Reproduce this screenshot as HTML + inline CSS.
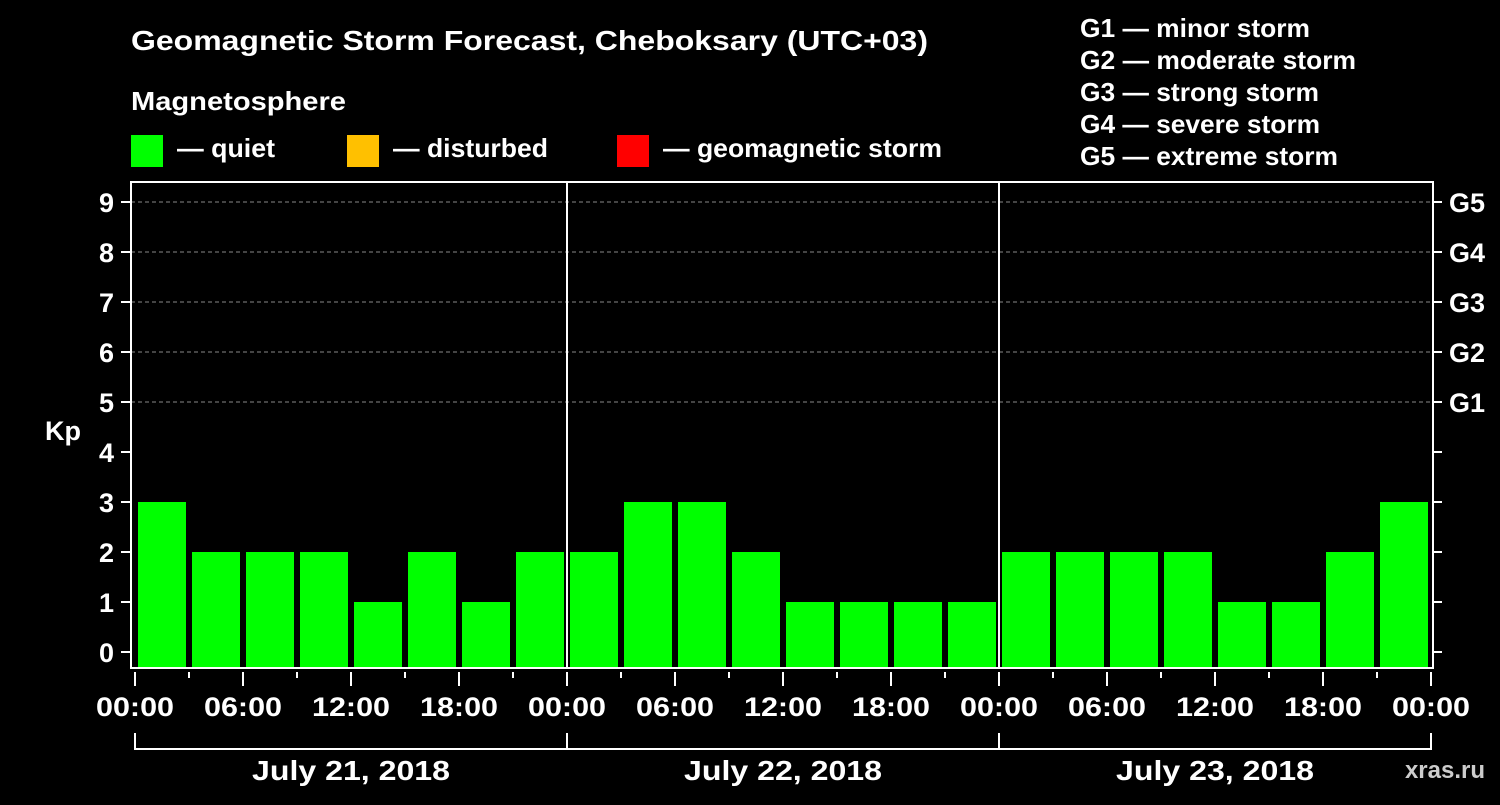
<!DOCTYPE html>
<html><head><meta charset="utf-8"><style>
body{margin:0;background:#000;width:1500px;height:800px;overflow:hidden}
svg text{font-family:"Liberation Sans",Arial,sans-serif;font-weight:bold;fill:#fff}
</style></head><body>
<svg id="chart" width="1500" height="800" viewBox="0 0 1500 800">
<text x="131" y="50" font-size="28" textLength="797" lengthAdjust="spacingAndGlyphs">Geomagnetic Storm Forecast, Cheboksary (UTC+03)</text>
<text x="131" y="110" font-size="26" textLength="215" lengthAdjust="spacingAndGlyphs">Magnetosphere</text>
<rect x="131" y="135" width="32" height="32" fill="#00ff00"/>
<text x="177" y="157" font-size="26" textLength="98" lengthAdjust="spacingAndGlyphs">— quiet</text>
<rect x="347" y="135" width="32" height="32" fill="#ffc000"/>
<text x="393" y="157" font-size="26" textLength="155" lengthAdjust="spacingAndGlyphs">— disturbed</text>
<rect x="617" y="135" width="32" height="32" fill="#ff0000"/>
<text x="663" y="157" font-size="26" textLength="279" lengthAdjust="spacingAndGlyphs">— geomagnetic storm</text>
<g font-size="26">
<text x="1080" y="37" textLength="230" lengthAdjust="spacingAndGlyphs">G1 — minor storm</text>
<text x="1080" y="69" textLength="276" lengthAdjust="spacingAndGlyphs">G2 — moderate storm</text>
<text x="1080" y="101" textLength="239" lengthAdjust="spacingAndGlyphs">G3 — strong storm</text>
<text x="1080" y="133" textLength="240" lengthAdjust="spacingAndGlyphs">G4 — severe storm</text>
<text x="1080" y="165" textLength="258" lengthAdjust="spacingAndGlyphs">G5 — extreme storm</text>
</g>
<text x="63" y="440" font-size="27" text-anchor="middle">Kp</text>
<g id="grid"></g><g id="bars"></g><g id="axes"></g>
<text x="1485" y="778" font-size="24" text-anchor="end" style="fill:#ccc">xras.ru</text>
</svg>
<script>
const days=["July 21, 2018","July 22, 2018","July 23, 2018"];
const kpValues=[3,2,2,2,1,2,1,2, 2,3,3,2,1,1,1,1, 2,2,2,2,1,1,2,3];
const yTicks=[0,1,2,3,4,5,6,7,8,9];
const gLabels={5:"G1",6:"G2",7:"G3",8:"G4",9:"G5"};
const timeLabels=["00:00","06:00","12:00","18:00"];
const NS="http://www.w3.org/2000/svg";
const x0=135,dayW=432,slot=dayW/8;
const yS=v=>652-v*50;
function mk(parent,tag,attrs){const e=document.createElementNS(NS,tag);for(const k in attrs)e.setAttribute(k,attrs[k]);document.getElementById(parent).appendChild(e);return e;}
const plotLeft=131,plotRight=1433,plotTop=182,plotBottom=668;
yTicks.forEach(v=>{
 if(v>=5){const l=mk("grid","line",{x1:plotLeft,x2:plotRight,y1:yS(v),y2:yS(v),stroke:"#888","stroke-dasharray":"4,3","stroke-width":1});
 
 }
 const t=mk("axes","line",{x1:121,x2:plotLeft,y1:yS(v),y2:yS(v),stroke:"#fff","stroke-width":2});
 
 
 const t2=mk("axes","line",{x1:plotRight,x2:1442,y1:yS(v),y2:yS(v),stroke:"#fff","stroke-width":2});
 
 
 const lb=mk("axes","text",{x:114,y:yS(v)+10,"font-size":27,"text-anchor":"end"});lb.textContent=v;
 
 
 if(gLabels[v]){const g=mk("axes","text",{x:1449,y:yS(v)+10,"font-size":27});g.textContent=gLabels[v];
 
 }
});
kpValues.forEach((v,i)=>{
 const x=x0+i*slot+3;
 const r=mk("bars","rect",{x:x,y:yS(v),width:slot-6,height:plotBottom-yS(v),fill:v>=5?"#ff0000":(v>=4?"#ffc000":"#00ff00")});
 
 
});
const fr=mk("axes","rect",{x:plotLeft,y:plotTop,width:plotRight-plotLeft,height:plotBottom-plotTop,fill:"none",stroke:"#fff","stroke-width":2});


days.forEach((d,di)=>{
 const dx=x0+di*dayW;
 if(di>0){const s=mk("axes","line",{x1:dx,x2:dx,y1:plotTop,y2:plotBottom,stroke:"#fff","stroke-width":2});
 
 }
 for(let k=0;k<8;k++){const tx=dx+k*slot;const maj=k%2==0;
  const t=mk("axes","line",{x1:tx,x2:tx,y1:672,y2:maj?686:678,stroke:"#fff","stroke-width":2});
  
  
  if(maj){const l=mk("axes","text",{x:tx,y:716,"font-size":27,"text-anchor":"middle",textLength:78,lengthAdjust:"spacingAndGlyphs"});l.textContent=timeLabels[k/2];
  
  }
 }
 const b=mk("axes","path",{d:`M${dx} 733V749H${dx+dayW}`,fill:"none",stroke:"#fff","stroke-width":2});
 
 
 const dl=mk("axes","text",{x:dx+dayW/2,y:780,"font-size":28,"text-anchor":"middle",textLength:198,lengthAdjust:"spacingAndGlyphs"});dl.textContent=d;
 
 
});
const ex=x0+3*dayW;
const et=mk("axes","line",{x1:ex,x2:ex,y1:672,y2:686,stroke:"#fff","stroke-width":2});


const el=mk("axes","text",{x:ex,y:716,"font-size":27,"text-anchor":"middle",textLength:78,lengthAdjust:"spacingAndGlyphs"});el.textContent="00:00";


const eb=mk("axes","line",{x1:ex,x2:ex,y1:733,y2:750,stroke:"#fff","stroke-width":2});


</script>
</body></html>
